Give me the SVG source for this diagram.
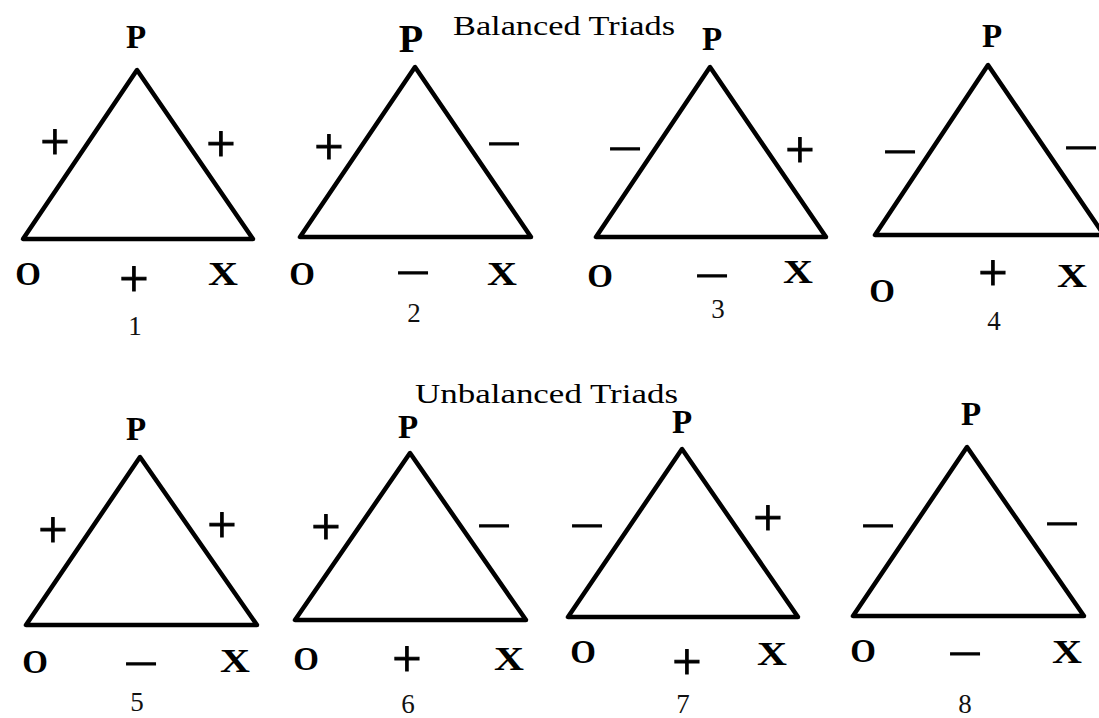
<svg xmlns="http://www.w3.org/2000/svg" width="1099" height="718" viewBox="0 0 1099 718">
<style>
  .tri { fill: none; stroke: #000; stroke-width: 4.5; stroke-linejoin: round; }
  .v { font-family: "Liberation Serif", "Times New Roman", serif; font-weight: bold; font-size: 33px; fill: #000; text-anchor: middle; }
  .s { font-family: "Liberation Serif", "Times New Roman", serif; font-size: 52px; fill: #000; stroke: #000; stroke-width: 1; text-anchor: middle; }
  .m { font-family: "Liberation Serif", "Times New Roman", serif; font-size: 40px; fill: #000; stroke: #000; stroke-width: 1.3; text-anchor: middle; }
  .n { font-family: "Liberation Serif", "Times New Roman", serif; font-size: 27px; fill: #111; text-anchor: middle; }
  .t { font-family: "Liberation Serif", "Times New Roman", serif; font-size: 27px; fill: #000; }
</style>
<rect width="1099" height="718" fill="#fff"/>

<g id="titles">
  <text class="t" x="453" y="35" textLength="222" lengthAdjust="spacingAndGlyphs">Balanced Triads</text>
  <text class="t" x="415" y="403" textLength="263" lengthAdjust="spacingAndGlyphs">Unbalanced Triads</text>
</g>

<g id="connectors">
  <polygon class="tri" points="137,70 23,239 253,239"/>
  <polygon class="tri" points="415,67 300,237 531,237"/>
  <polygon class="tri" points="710,67 596,237 826,237"/>
  <polygon class="tri" points="988,65 875,235 1104,235"/>
  <polygon class="tri" points="140,457 26,625 257,625"/>
  <polygon class="tri" points="410,453 295,620 526,620"/>
  <polygon class="tri" points="682,449 568,617 798,617"/>
  <polygon class="tri" points="967,447 853,616 1084,616"/>
</g>

<g id="triad1">
  <text class="v" x="136" y="48">P</text>
  <text class="v" x="28" y="285">O</text>
  <text class="v" x="223" y="285" textLength="30" lengthAdjust="spacingAndGlyphs">X</text>
  <text class="s" x="55" y="159">+</text>
  <text class="s" x="221" y="161">+</text>
  <text class="s" x="134" y="296">+</text>
  <text class="n" x="135" y="335">1</text>
</g>

<g id="triad2">
  <text class="v" x="411" y="52" style="font-size:40px">P</text>
  <text class="v" x="302" y="285">O</text>
  <text class="v" x="502" y="285" textLength="30" lengthAdjust="spacingAndGlyphs">X</text>
  <text class="s" x="329" y="164">+</text>
  <text class="m" x="504" y="157" textLength="34" lengthAdjust="spacingAndGlyphs">−</text>
  <text class="m" x="413" y="286" textLength="34" lengthAdjust="spacingAndGlyphs">−</text>
  <text class="n" x="414" y="322">2</text>
</g>

<g id="triad3">
  <text class="v" x="712" y="50">P</text>
  <text class="v" x="600" y="287">O</text>
  <text class="v" x="798" y="283" textLength="30" lengthAdjust="spacingAndGlyphs">X</text>
  <text class="m" x="625" y="162" textLength="34" lengthAdjust="spacingAndGlyphs">−</text>
  <text class="s" x="800" y="167">+</text>
  <text class="m" x="712" y="289" textLength="34" lengthAdjust="spacingAndGlyphs">−</text>
  <text class="n" x="718" y="318">3</text>
</g>

<g id="triad4">
  <text class="v" x="992" y="47">P</text>
  <text class="v" x="882" y="302">O</text>
  <text class="v" x="1072" y="287" textLength="30" lengthAdjust="spacingAndGlyphs">X</text>
  <text class="m" x="900" y="165" textLength="34" lengthAdjust="spacingAndGlyphs">−</text>
  <text class="m" x="1081" y="161" textLength="34" lengthAdjust="spacingAndGlyphs">−</text>
  <text class="s" x="993" y="290">+</text>
  <text class="n" x="994" y="330">4</text>
</g>

<g id="triad5">
  <text class="v" x="136" y="440">P</text>
  <text class="v" x="35" y="673">O</text>
  <text class="v" x="235" y="672" textLength="30" lengthAdjust="spacingAndGlyphs">X</text>
  <text class="s" x="53" y="547">+</text>
  <text class="s" x="222" y="542">+</text>
  <text class="m" x="141" y="677" textLength="34" lengthAdjust="spacingAndGlyphs">−</text>
  <text class="n" x="137" y="711">5</text>
</g>

<g id="triad6">
  <text class="v" x="408" y="438">P</text>
  <text class="v" x="306" y="670">O</text>
  <text class="v" x="509" y="670" textLength="30" lengthAdjust="spacingAndGlyphs">X</text>
  <text class="s" x="326" y="544">+</text>
  <text class="m" x="494" y="539" textLength="34" lengthAdjust="spacingAndGlyphs">−</text>
  <text class="s" x="407" y="676">+</text>
  <text class="n" x="408" y="713">6</text>
</g>

<g id="triad7">
  <text class="v" x="682" y="433">P</text>
  <text class="v" x="583" y="663">O</text>
  <text class="v" x="772" y="665" textLength="30" lengthAdjust="spacingAndGlyphs">X</text>
  <text class="m" x="587" y="539" textLength="34" lengthAdjust="spacingAndGlyphs">−</text>
  <text class="s" x="768" y="535">+</text>
  <text class="s" x="687" y="679">+</text>
  <text class="n" x="683" y="713">7</text>
</g>

<g id="triad8">
  <text class="v" x="971" y="425">P</text>
  <text class="v" x="863" y="662">O</text>
  <text class="v" x="1067" y="663" textLength="30" lengthAdjust="spacingAndGlyphs">X</text>
  <text class="m" x="878" y="539" textLength="34" lengthAdjust="spacingAndGlyphs">−</text>
  <text class="m" x="1062" y="537" textLength="34" lengthAdjust="spacingAndGlyphs">−</text>
  <text class="m" x="965" y="667" textLength="34" lengthAdjust="spacingAndGlyphs">−</text>
  <text class="n" x="965" y="713">8</text>
</g>
</svg>
